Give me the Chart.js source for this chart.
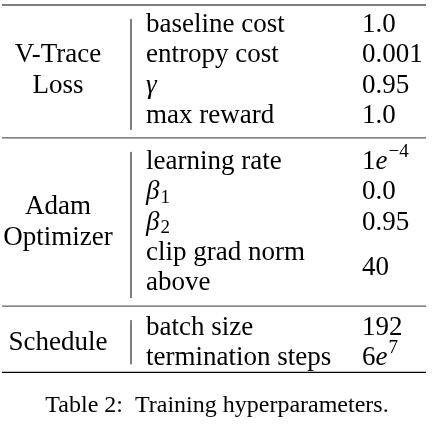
<!DOCTYPE html>
<html><head><meta charset="utf-8">
<script src="https://cdn.jsdelivr.net/npm/chart.js@4"></script>
<style>html,body{margin:0;padding:0;background:#fff}#w{width:434px;height:426px}</style>
</head><body><div id="w"><canvas id="c"></canvas></div>
<script>
const groups = [["V-Trace","Loss"],["Adam","Optimizer"],["Schedule"]];
const params = [
  ["baseline cost","entropy cost","γ","max reward"],
  ["learning rate","β|1","β|2","clip grad norm|above"],
  ["batch size","termination steps"]
];
const values = [
  ["1.0","0.001","0.95","1.0"],
  ["1e^-4","0.0","0.95","40"],
  ["192","6e^7"]
];
const caption = "Table 2:  Training hyperparameters.";

const F = '"Liberation Serif", "DejaVu Serif", serif';
const tablePlugin = {
  id:'tbl',
  afterDraw(chart){
    const ctx = chart.ctx;
    ctx.save();
    ctx.fillStyle='#000'; ctx.strokeStyle='#000';
    const rowH = 30.3, L=2, R=426, VX=131, PX=146, VALX=362;
    const topPad=[20,24,22], botPad=[22,23,14];
    let y = 5;
    ctx.lineWidth=1.2;
    ctx.beginPath(); ctx.moveTo(L,y); ctx.lineTo(R,y); ctx.stroke();
    ctx.textBaseline='middle';
    const font = '27px '+F;
    groups.forEach((g,gi)=>{
      const start = y;
      let rows = 0; params[gi].forEach(p=>rows += p.includes('|')&&!p.startsWith('β')?2:1);
      const first = y + topPad[gi];
      const last = first + (rows-1)*rowH;
      const end = last + botPad[gi];
      ctx.lineWidth=1;
      ctx.beginPath(); ctx.moveTo(VX,start+14); ctx.lineTo(VX,end-8); ctx.stroke();
      ctx.font=font; ctx.textAlign='center';
      const gc = (first+last)/2;
      g.forEach((t,i)=>ctx.fillText(t,58,gc+(i-(g.length-1)/2)*rowH));
      ctx.textAlign='left';
      let ry = first;
      params[gi].forEach((p,pi)=>{
        const v = values[gi][pi];
        let nlines = 1;
        if(p.startsWith('β')){
          ctx.font='italic 27px '+F; ctx.fillText('β',PX,ry);
          const w=ctx.measureText('β').width;
          ctx.font='19px '+F; ctx.fillText(p.split('|')[1],PX+w+1,ry+6);
        } else if(p.includes('|')){
          ctx.font=font;
          const ps=p.split('|'); nlines=ps.length;
          ps.forEach((s,i)=>ctx.fillText(s,PX,ry+i*rowH));
        } else if(p==='γ'){
          ctx.font='italic 27px '+F; ctx.fillText(p,PX,ry);
        } else { ctx.font=font; ctx.fillText(p,PX,ry); }
        const vy = ry + (nlines-1)*rowH/2;
        if(v.includes('^')){
          const [b,e]=v.split('^');
          ctx.font='27px '+F; ctx.fillText(b[0],VALX,vy);
          let w=ctx.measureText(b[0]).width;
          ctx.font='italic 27px '+F; ctx.fillText(b[1],VALX+w,vy);
          w+=ctx.measureText(b[1]).width;
          ctx.font='19px '+F; ctx.fillText(e.replace('-','−'),VALX+w+1,vy-10);
        } else { ctx.font=font; ctx.fillText(v,VALX,vy); }
        ry += nlines*rowH;
      });
      y = end;
      ctx.lineWidth = gi===groups.length-1?1.2:0.8;
      ctx.beginPath(); ctx.moveTo(L,y); ctx.lineTo(R,y); ctx.stroke();
    });
    ctx.font='24px '+F; ctx.textAlign='center';
    ctx.fillText(caption,217,y+33);
    ctx.restore();
  }
};
new Chart(document.getElementById('c'),{
  type:'bar',
  data:{labels:[],datasets:[]},
  options:{responsive:true,maintainAspectRatio:false,animation:false,
    plugins:{legend:{display:false},tooltip:{enabled:false}},
    scales:{x:{display:false},y:{display:false}}},
  plugins:[tablePlugin]
});
</script></body></html>
